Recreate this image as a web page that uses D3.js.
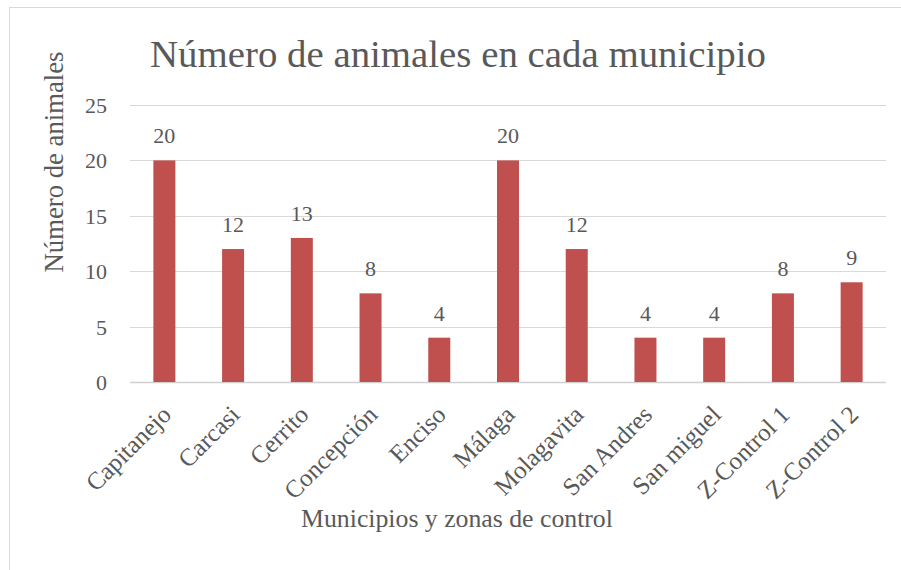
<!DOCTYPE html>
<html>
<head>
<meta charset="utf-8">
<script src="https://cdn.jsdelivr.net/npm/d3@7"></script>
<style>
  html, body { margin: 0; padding: 0; background: #fff; }
  svg { display: block; }
  text { font-family: "Liberation Serif", "Times New Roman", serif; fill: #595959; }
</style>
</head>
<body>
<svg id="chart" width="901" height="570"></svg>
<script>
const categories = ["Capitanejo", "Carcasi", "Cerrito", "Concepción", "Enciso", "Málaga",
                    "Molagavita", "San Andres", "San miguel", "Z-Control 1", "Z-Control 2"];
const values = [20, 12, 13, 8, 4, 20, 12, 4, 4, 8, 9];
const yTicks = [0, 5, 10, 15, 20, 25];
const chartTitle = "Número de animales en cada municipio";
const xTitle = "Municipios y zonas de control";
const yTitle = "Número de animales";

const svg = d3.select("#chart");
const plot = { left: 130, right: 886, top: 105, bottom: 382 };

// chart frame
svg.append("rect")
  .attr("x", 9.5).attr("y", 7.5)
  .attr("width", 1000).attr("height", 1000)
  .attr("fill", "none").attr("stroke", "#D9D9D9").attr("stroke-width", 1);

const x = d3.scaleBand().domain(categories).range([plot.left, plot.right]).paddingInner(0).paddingOuter(0);
const y = d3.scaleLinear().domain([0, 25]).range([plot.bottom, plot.top]);

function fit(sel, target) {
  const base = 30;
  sel.style("font-size", base + "px");
  const len = sel.node().getComputedTextLength();
  sel.style("font-size", (base * target / len) + "px");
}

// gridlines
svg.append("g").selectAll("line").data(yTicks).join("line")
  .attr("x1", plot.left).attr("x2", plot.right)
  .attr("y1", d => Math.round(y(d)) + 0.5).attr("y2", d => Math.round(y(d)) + 0.5)
  .attr("stroke", d => d === 0 ? "#D0D0D0" : "#D9D9D9")
  .attr("stroke-width", d => d === 0 ? 1.5 : 1);

// y axis tick labels via d3 axis
const yAxis = svg.append("g")
  .attr("transform", `translate(${plot.left},0)`)
  .call(d3.axisLeft(y).tickValues(yTicks).tickSize(0).tickPadding(23).tickFormat(d3.format("d")));
yAxis.select(".domain").remove();
yAxis.selectAll("text")
  .style("font-family", '"Liberation Serif", serif')
  .style("font-size", "22px").attr("fill", "#595959").attr("dy", "0.34em");

// bars
const barW = 22;
svg.append("g").selectAll("rect").data(values).join("rect")
  .attr("x", (d, i) => x(categories[i]) + x.bandwidth() / 2 - barW / 2)
  .attr("y", d => y(d))
  .attr("width", barW)
  .attr("height", d => y(0) - y(d))
  .attr("fill", "#C0504D");

// data labels
svg.append("g").selectAll("text").data(values).join("text")
  .attr("x", (d, i) => x(categories[i]) + x.bandwidth() / 2)
  .attr("y", d => y(d) - 17)
  .attr("text-anchor", "middle")
  .style("font-size", "22px")
  .text(d => d);

// x axis category labels
const xAxis = svg.append("g")
  .attr("transform", `translate(0,${plot.bottom})`)
  .call(d3.axisBottom(x).tickSize(0).tickPadding(0));
xAxis.select(".domain").remove();
xAxis.selectAll(".tick text")
  .style("font-family", '"Liberation Serif", serif')
  .style("font-size", "25px").attr("fill", "#595959")
  .attr("text-anchor", "end")
  .attr("y", 0).attr("dy", "0.35em")
  .attr("transform", "translate(2,28) rotate(-45)");

// titles
const t = svg.append("text").attr("x", 458).attr("y", 67).attr("text-anchor", "middle").text(chartTitle);
fit(t, 616);

const xt = svg.append("text").attr("x", 457).attr("y", 527).attr("text-anchor", "middle").text(xTitle);
fit(xt, 312);

const yt = svg.append("text").attr("text-anchor", "middle")
  .attr("transform", "translate(63,162) rotate(-90)").text(yTitle);
fit(yt, 221);
</script>
</body>
</html>
